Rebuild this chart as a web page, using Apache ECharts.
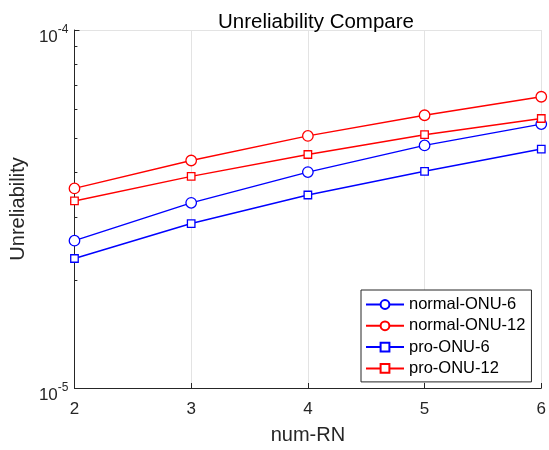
<!DOCTYPE html>
<html><head><meta charset="utf-8">
<script src="https://cdn.jsdelivr.net/npm/echarts@6/dist/echarts.min.js"></script>
<style>html,body{margin:0;padding:0;background:#fff}#c{width:549px;height:450px}</style>
</head><body><div id="c"></div>
<script>
const numRN = [2, 3, 4, 5, 6];
const normalONU6  = [2.58e-5, 3.29e-5, 4.01e-5, 4.76e-5, 5.46e-5];
const normalONU12 = [3.61e-5, 4.32e-5, 5.06e-5, 5.78e-5, 6.51e-5];
const proONU6     = [2.30e-5, 2.88e-5, 3.46e-5, 4.03e-5, 4.65e-5];
const proONU12    = [3.33e-5, 3.90e-5, 4.49e-5, 5.10e-5, 5.66e-5];
const minorY = [2e-5, 3e-5, 4e-5, 5e-5, 6e-5, 7e-5, 8e-5, 9e-5];

const font = 'Liberation Sans, Arial, Helvetica, sans-serif';
const dark = '#262626';
function pair(xs, ys){ return xs.map((x,i)=>[x, ys[i]]); }
function mk(name, data, color, symbol, size){
  return {name, type:'line', data: pair(numRN, data), symbol, symbolSize:size,
    lineStyle:{color, width:1.4}, itemStyle:{color:'#fff', borderColor:color, borderWidth:1.3},
    color, showSymbol:true, animation:false, z:5};
}
const chart = echarts.init(document.getElementById('c'));
chart.setOption({
  animation:false,
  title:{text:'Unreliability Compare', left:311, top:7, textAlign:'center',
    textStyle:{fontFamily:font, fontSize:20.5, fontWeight:'normal', color:'#000'}},
  grid:{left:74, right:6, top:30, bottom:58, containLabel:false},
  xAxis:{type:'value', min:2, max:6, interval:1, name:'num-RN', nameLocation:'middle', nameGap:47,
    nameTextStyle:{fontFamily:font, fontSize:20, color:dark, verticalAlign:'middle'},
    axisLine:{lineStyle:{color:dark, width:1}},
    axisTick:{inside:true, length:5, lineStyle:{color:dark}},
    axisLabel:{fontFamily:font, fontSize:17, color:dark, margin:13},
    splitLine:{show:true, lineStyle:{color:'#e3e3e3', width:1}}},
  yAxis:{type:'log', logBase:10, min:1e-5, max:1e-4, interval:1,
    name:'Unreliability', nameLocation:'middle', nameGap:56, nameRotate:90,
    nameTextStyle:{fontFamily:font, fontSize:20, color:dark, verticalAlign:'middle'},
    axisLine:{show:true, lineStyle:{color:dark, width:1}},
    axisTick:{inside:true, length:5, lineStyle:{color:dark}},
    axisLabel:{fontFamily:font, fontSize:17, color:dark, margin:6, padding:[10,0,0,0],
      formatter:function(v){ const e = Math.round(Math.log10(v)); return '{b|10}{s|'+e+'}'; },
      rich:{b:{fontSize:17, fontFamily:font, color:dark, lineHeight:22, verticalAlign:'bottom'},
            s:{fontSize:12, verticalAlign:'top', lineHeight:12, fontFamily:font, color:dark}}},
    splitLine:{show:true, lineStyle:{color:'#e3e3e3', width:1}}},
  legend:{orient:'vertical', left:361, top:290, itemWidth:38, itemHeight:11, itemGap:4.3,
    padding:[6,6,5,4], borderColor:dark, borderWidth:1, backgroundColor:'#fff',
    textStyle:{fontFamily:font, fontSize:16.5, color:'#000'},
    data:['normal-ONU-6','normal-ONU-12','pro-ONU-6','pro-ONU-12']},
  series:[
    Object.assign(mk('normal-ONU-6', normalONU6, '#0000ff', 'circle', 10.5), {
      markLine:{silent:true, symbol:'none', animation:false, label:{show:false},
        lineStyle:{color:'#b8b8b8', type:[1,2], width:1},
        data: minorY.map(v=>({yAxis:v}))}
    }),
    mk('normal-ONU-12', normalONU12, '#ff0000', 'circle', 10.5),
    Object.assign(mk('pro-ONU-6', proONU6, '#0000ff', 'rect', 7.5), {
      markLine:{silent:true, symbol:'none', animation:false, label:{show:false},
        lineStyle:{color:dark, type:'solid', width:1},
        data: minorY.map(v=>[{coord:[2, v]}, {coord:[2.025, v]}])}
    }),
    mk('pro-ONU-12', proONU12, '#ff0000', 'rect', 7.5)
  ]
});
</script></body></html>
